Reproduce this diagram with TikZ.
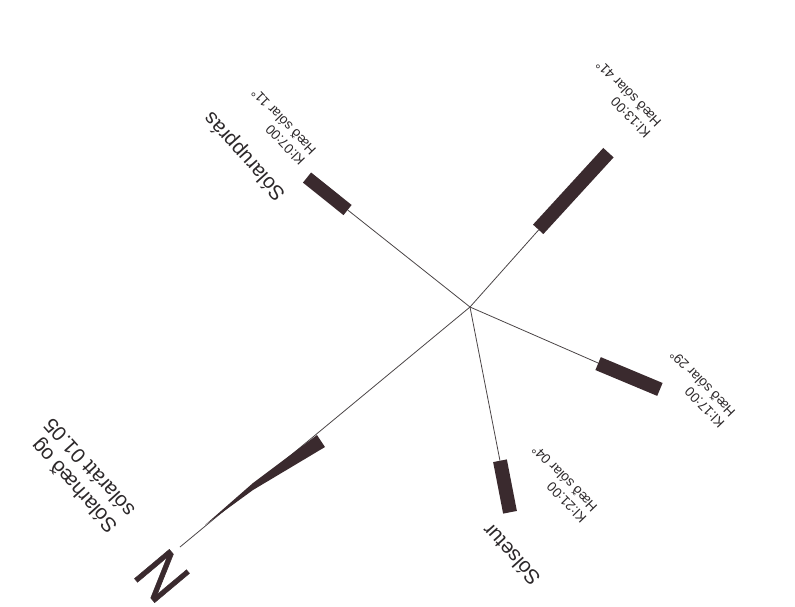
\documentclass[tikz,border=0pt]{standalone}
\usepackage{fontspec}
\setmainfont{Liberation Sans}
\newfontfamily\northfont[FakeBold=0.9]{Liberation Sans}
\definecolor{ink}{HTML}{3A2A2E}
\definecolor{wire}{HTML}{4A4446}
\definecolor{labelink}{HTML}{2C282A}
\tikzset{
  barbox/.style={fill=ink,draw=none,inner sep=0pt,rectangle},
  ray/.style={draw=wire,line width=.8pt},
  timelabel/.style={text=labelink,font=\fontsize{13.6}{15}\selectfont,align=left,inner sep=0pt,rotate=134},
  title/.style={text=labelink,font=\fontsize{20.5}{23.5}\selectfont,align=left,inner sep=0pt,rotate=132}
}
\begin{document}
\begin{tikzpicture}[x=1pt,y=-1pt]
\useasboundingbox (0,0) rectangle (795,606);
\coordinate (centre) at (470,307);
\coordinate (northend) at (180,547);
\node[barbox,minimum width=52pt,minimum height=13pt,rotate=-38.7] (barrise) at (327.3,193.8) {};
\node[barbox,minimum width=104pt,minimum height=14pt,rotate=47.5] (barnoon) at (573.3,191) {};
\node[barbox,minimum width=67pt,minimum height=14pt,rotate=-22.7] (bareve) at (629,376.5) {};
\node[barbox,minimum width=52.5pt,minimum height=14pt,rotate=-79] (barset) at (505,486.5) {};
\draw[ray] (centre) -- (barrise);
\draw[ray] (centre) -- (barnoon);
\draw[ray] (centre) -- (bareve);
\draw[ray] (centre) -- (barset);
\draw[ray] (centre) -- (northend);
\fill[ink] (325,447) -- (317,435) -- (253,483) -- (205,525) -- (253,490) -- cycle;
\node[timelabel] (lrise) at (278,127) {Kl:07:00\\Hæð sólar 11°};
\node[timelabel] (lnoon) at (623,99) {Kl:13:00\\Hæð sólar 41°};
\node[timelabel] (leve) at (697,389) {Kl:17:00\\Hæð sólar 29°};
\node[timelabel] (lset) at (559,484) {Kl:21:00\\Hæð sólar 04°};
\node[title] (trise) at (245,156) {Sólarupprás};
\node[title] (tset) at (511,555) {Sólsetur};
\node[title] (tmain) at (80,476) {Sólarhæð og\\sólarátt 01.05};
\node[text=ink,font=\northfont\fontsize{66}{66}\selectfont,inner sep=0pt,rotate=130] (north) at (162,576) {\scalebox{.85}[1]{N}};
\end{tikzpicture}
\end{document}
